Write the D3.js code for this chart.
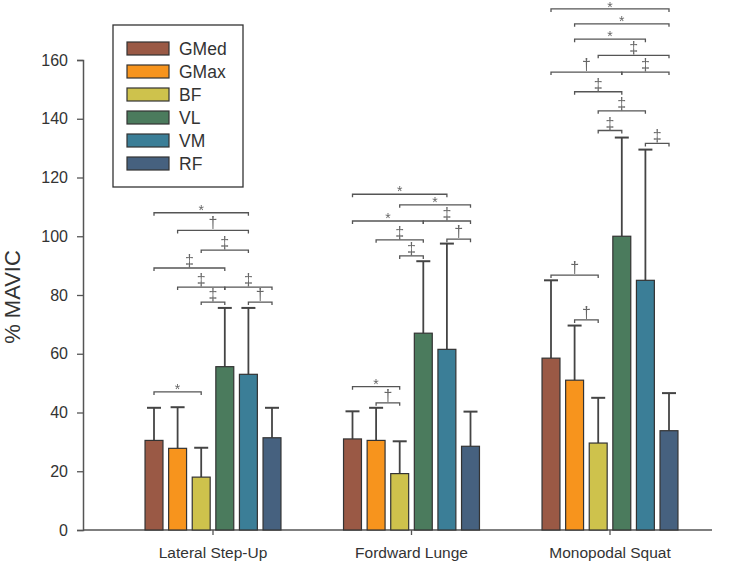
<!DOCTYPE html>
<html><head><meta charset="utf-8">
<script src="https://cdn.jsdelivr.net/npm/d3@7"></script>
<style>body{margin:0;background:#fff}svg{display:block}text{font-family:"Liberation Sans",Arial,sans-serif}
.sig{filter:grayscale(100%)}</style>
</head><body><svg id="c" width="740" height="565"></svg>
<script>
const exercises = ["Lateral Step-Up","Fordward Lunge","Monopodal Squat"];
const muscles = ["GMed","GMax","BF","VL","VM","RF"];
const colors = ["#9A5945","#F7941D","#CEC24C","#4B7B5D","#3B7E97","#46617F"];
const means = [
  [30.5, 27.8, 18.0, 55.6, 53.0, 31.4],
  [31.0, 30.5, 19.2, 67.0, 61.5, 28.5],
  [58.5, 51.0, 29.6, 100.0, 85.0, 33.8]
];
const upper = [
  [41.6, 41.8, 28.0, 75.6, 75.6, 41.6],
  [40.4, 41.6, 30.2, 91.5, 97.5, 40.3],
  [85.0, 69.6, 45.0, 133.6, 129.5, 46.6]
];
const yTicks = [0,20,40,60,80,100,120,140,160];
// [exercise index, from muscle, to muscle, height, symbol]
const brackets = [
  [0,"GMed","BF",47,"*"],
  [0,"GMed","VM",108,"*"],
  [0,"GMax","VM",102,"†"],
  [0,"BF","VM",95.3,"‡"],
  [0,"GMed","VL",89.2,"‡"],
  [0,"GMax","VL",82.7,"‡"],
  [0,"VL","RF",82.7,"‡"],
  [0,"BF","VL",77.6,"‡"],
  [0,"VM","RF",77.6,"†"],
  [1,"GMed","BF",48.8,"*"],
  [1,"GMax","BF",43.3,"†"],
  [1,"GMed","VM",114.3,"*"],
  [1,"BF","RF",110.7,"*"],
  [1,"GMed","VL",105.2,"*"],
  [1,"VL","RF",105.2,"‡"],
  [1,"GMax","VL",98.8,"‡"],
  [1,"VM","RF",99.0,"†"],
  [1,"BF","VL",93.3,"‡"],
  [2,"GMed","BF",86.8,"†"],
  [2,"GMax","BF",71.5,"†"],
  [2,"GMed","RF",177.4,"*"],
  [2,"GMax","RF",172.3,"*"],
  [2,"GMax","VM",167.1,"*"],
  [2,"BF","RF",161.6,"‡"],
  [2,"GMed","VL",155.9,"†"],
  [2,"VL","RF",155.9,"‡"],
  [2,"GMax","VL",149.2,"‡"],
  [2,"BF","VM",142.7,"‡"],
  [2,"BF","VL",136.0,"‡"],
  [2,"VM","RF",131.6,"‡"]
];

const svg = d3.select("#c");
const y = d3.scaleLinear().domain([0,160]).range([530,60]);
const x0 = d3.scaleBand().domain(exercises).range([113.75,709.25]);
const x1 = d3.scaleBand().domain(muscles).range([-70.8,70.8]).paddingInner(0.24).paddingOuter(0.12);
const cx = (g,m) => x0(exercises[g]) + x0.bandwidth()/2 + x1(m) + x1.bandwidth()/2;
const axisCol = "#555";

// y axis
const ya = svg.append("g").attr("transform","translate(83,0)")
  .call(d3.axisLeft(y).tickValues(yTicks).tickSize(6).tickPadding(9));
ya.select(".domain").attr("stroke",axisCol).attr("stroke-width",1.5);
ya.selectAll(".tick line").attr("stroke",axisCol).attr("stroke-width",1.3);
ya.selectAll(".tick text").attr("font-size",16).attr("fill","#333")
  .attr("font-family","'Liberation Sans',Arial,sans-serif");

// x axis
const xa = svg.append("g").attr("transform","translate(0,530)")
  .call(d3.axisBottom(x0).tickSize(5).tickPadding(12).tickSizeOuter(0));
xa.select(".domain").remove();
svg.append("line").attr("x1",83).attr("x2",712).attr("y1",530).attr("y2",530)
  .attr("stroke",axisCol).attr("stroke-width",1.5);
xa.selectAll(".tick line").attr("stroke",axisCol).attr("stroke-width",1.3);
xa.selectAll(".tick text").attr("font-size",15.5).attr("fill","#333")
  .attr("font-family","'Liberation Sans',Arial,sans-serif");

// y label
svg.append("text").attr("transform","translate(20,297) rotate(-90)")
  .attr("text-anchor","middle").attr("font-size",22).attr("fill","#333").text("% MAVIC");

// bars + error bars
exercises.forEach((ex,g)=>{
  const grp = svg.append("g");
  muscles.forEach((m,i)=>{
    const c = cx(g,m), w = x1.bandwidth();
    grp.append("line").attr("x1",c).attr("x2",c).attr("y1",y(means[g][i])).attr("y2",y(upper[g][i]))
      .attr("stroke","#444").attr("stroke-width",1.8);
    grp.append("line").attr("x1",c-7).attr("x2",c+7).attr("y1",y(upper[g][i])).attr("y2",y(upper[g][i]))
      .attr("stroke","#444").attr("stroke-width",2);
    grp.append("rect").attr("x",c-w/2).attr("width",w)
      .attr("y",y(means[g][i])).attr("height",y(0)-y(means[g][i]))
      .attr("fill",colors[i]).attr("stroke","#333").attr("stroke-width",1.2);
  });
});

// significance brackets
const bg = svg.append("g").attr("class","sig");
brackets.forEach(([g,a,b,v,s])=>{
  const xa_ = cx(g,a), xb = cx(g,b), yy = y(v);
  bg.append("path").attr("d",`M${xa_},${yy+3}V${yy}H${xb}V${yy+3}`)
    .attr("fill","none").attr("stroke","#555").attr("stroke-width",1.3);
  const t = bg.append("text").attr("x",(xa_+xb)/2).attr("text-anchor","middle").attr("fill","#666");
  if (s==="*") t.attr("y",Math.max(yy+2,11.5)).attr("font-size",14).text("*");
  else t.attr("y",yy-2).attr("font-size",16).attr("font-family","'DejaVu Sans',sans-serif").text(s);
});

// legend
const lg = svg.append("g");
lg.append("rect").attr("x",113).attr("y",25).attr("width",130).attr("height",162)
  .attr("fill","#fff").attr("stroke","#333").attr("stroke-width",1.3);
muscles.forEach((m,i)=>{
  const yy = 42 + i*23;
  lg.append("rect").attr("x",127).attr("y",yy).attr("width",42).attr("height",13)
    .attr("fill",colors[i]).attr("stroke","#333").attr("stroke-width",1.2);
  lg.append("text").attr("x",179).attr("y",yy+13).attr("font-size",17.5).attr("fill","#333").text(m);
});
</script></body></html>
